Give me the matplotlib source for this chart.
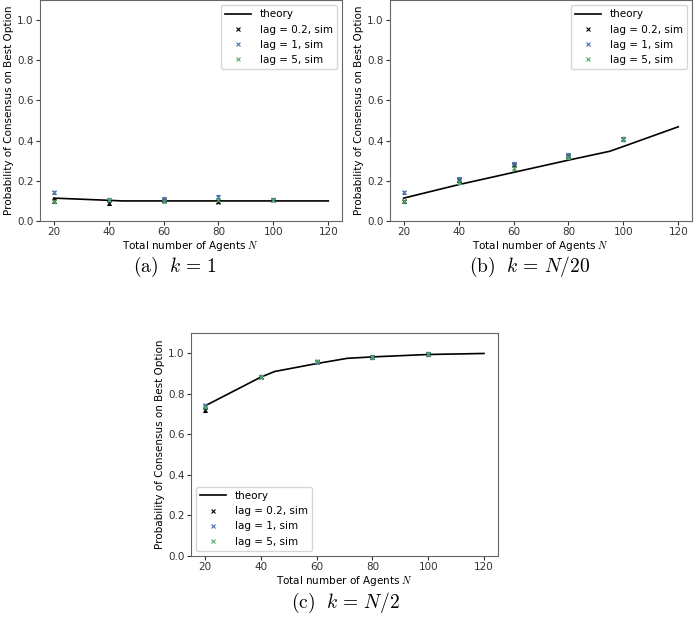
import numpy as np
import matplotlib.pyplot as plt

plt.rcParams['mathtext.fontset'] = 'cm'
plt.rcParams['font.size'] = 7.5

# sim points
N_sim = [20, 40, 60, 80, 100]
lags = ['0.2', '1', '5']
lag_colors = ['k', '#4C72B0', '#55A868']

# (a) k = 1
th_x_a = [20, 40, 45, 60, 80, 100, 120]
th_y_a = [0.114, 0.103, 0.100, 0.100, 0.100, 0.100, 0.100]
sim_a = {
    '0.2': [0.100, 0.090, 0.104, 0.097, 0.107],
    '1':   [0.143, 0.106, 0.112, 0.120, 0.107],
    '5':   [0.098, 0.105, 0.100, 0.107, 0.107],
}

# (b) k = N/20
th_x_b = [20, 40, 60, 80, 95, 100, 120]
th_y_b = [0.114, 0.181, 0.242, 0.303, 0.347, 0.371, 0.469]
sim_b = {
    '0.2': [0.098, 0.204, 0.280, 0.322, 0.408],
    '1':   [0.143, 0.209, 0.285, 0.330, 0.408],
    '5':   [0.098, 0.192, 0.264, 0.318, 0.408],
}

# (c) k = N/2
th_x_c = [20, 40, 45, 60, 71, 80, 100, 120]
th_y_c = [0.741, 0.883, 0.911, 0.950, 0.976, 0.983, 0.995, 1.000]
sim_c = {
    '0.2': [0.721, 0.886, 0.960, 0.983, 0.997],
    '1':   [0.744, 0.886, 0.960, 0.983, 0.997],
    '5':   [0.734, 0.886, 0.962, 0.983, 0.997],
}
err = 0.008

captions = [r'$\mathrm{(a)}\ \ k\,=\,1$', r'$\mathrm{(b)}\ \ k\,=\,N/20$', r'$\mathrm{(c)}\ \ k\,=\,N/2$']


def panel(ax, th_x, th_y, sims, legend_loc):
    ax.plot(th_x, th_y, color='k', lw=1.2, label='theory')
    for lag, c in zip(lags, lag_colors):
        ax.errorbar(N_sim, sims[lag], yerr=err, fmt='x', color=c, ms=3.5,
                    mew=0.8, elinewidth=0.8, capsize=1.5, label=f'lag = {lag}, sim')
    ax.set_ylim(0, 1.1)
    ax.set_xticks([20, 40, 60, 80, 100, 120])
    ax.set_yticks([0.0, 0.2, 0.4, 0.6, 0.8, 1.0])
    ax.set_xlabel('Total number of Agents $N$', labelpad=1)
    ax.set_ylabel('Probability of Consensus on Best Option', labelpad=2)
    for s in ax.spines.values():
        s.set_color('0.4')
    ax.tick_params(colors='0.2', length=3, pad=1.5)
    h, l = ax.get_legend_handles_labels()
    h = [hh[0] if hasattr(hh, 'lines') else hh for hh in h]
    ax.legend(h, l, loc=legend_loc, fontsize=7.5, handlelength=2.5)


fig = plt.figure(figsize=(6.98, 6.24), dpi=100)
ax_a = fig.add_axes([0.0573, 0.6458, 0.4327, 0.3542])
ax_b = fig.add_axes([0.5587, 0.6458, 0.4327, 0.3542])
ax_c = fig.add_axes([0.2736, 0.109, 0.4398, 0.357])

panel(ax_a, th_x_a, th_y_a, sim_a, 'upper right')
panel(ax_b, th_x_b, th_y_b, sim_b, 'upper right')
panel(ax_c, th_x_c, th_y_c, sim_c, 'lower left')

fig.text(175 / 698, 1 - 267 / 624, captions[0], ha='center', va='center', fontsize=14)
fig.text(530 / 698, 1 - 267 / 624, captions[1], ha='center', va='center', fontsize=14)
fig.text(345 / 698, 1 - 603 / 624, captions[2], ha='center', va='center', fontsize=14)

fig.savefig('out.png', dpi=100)
